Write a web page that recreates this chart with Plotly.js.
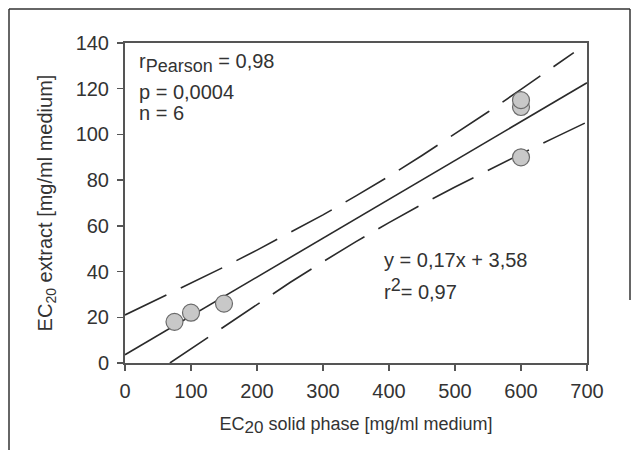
<!DOCTYPE html>
<html>
<head>
<meta charset="utf-8">
<script src="https://cdn.plot.ly/plotly-3.0.1.min.js"></script>
<style>html,body{margin:0;padding:0;background:#fff;}#chart{width:637px;height:450px;}</style>
</head>
<body>
<div id="chart"></div>
<script>
// Measured data points
const solidX = [75, 100, 150, 600, 600, 600];
const extractY = [18, 22, 26, 112, 115, 90];

// Regression line
const fitX = [0, 700];
const fitY = [3.6, 122.6];

// Upper dashed band
const upperX = [0, 50, 100, 150, 200, 250, 300, 350, 400, 450, 500, 550, 600, 650, 680];
const upperY = [21, 28, 35, 42, 49.4, 57, 64.8, 73.1, 81.7, 90.8, 100.2, 109.8, 119.7, 129.7, 135.8];

// Lower dashed band
const lowerX = [68, 100, 150, 200, 250, 300, 350, 400, 450, 500, 550, 600, 650, 700];
const lowerY = [0, 6.2, 16.1, 25.8, 35.2, 44.3, 53.1, 61.4, 69.4, 77, 84.3, 91.5, 98.5, 105.4];

const xTicks = [0, 100, 200, 300, 400, 500, 600, 700];
const yTicks = [0, 20, 40, 60, 80, 100, 120, 140];

const FONT = 'Liberation Sans, Arial, sans-serif';
const TXT = '#333333';

const traces = [
  {x: upperX, y: upperY, mode: 'lines', line: {color: '#2a2a2a', width: 1.6, dash: '46px,16px'}, hoverinfo: 'skip'},
  {x: lowerX, y: lowerY, mode: 'lines', line: {color: '#2a2a2a', width: 1.6, dash: '46px,16px'}, hoverinfo: 'skip'},
  {x: fitX, y: fitY, mode: 'lines', line: {color: '#2a2a2a', width: 1.6}, hoverinfo: 'skip'},
  {x: solidX, y: extractY, mode: 'markers',
   marker: {size: 17, color: '#c8c8c8', line: {color: '#6a6a6a', width: 1.2}}}
];

const layout = {
  width: 637, height: 450,
  margin: {l: 125, r: 50, t: 43, b: 87},
  paper_bgcolor: '#ffffff', plot_bgcolor: '#ffffff',
  showlegend: false,
  font: {family: FONT, color: TXT, size: 20},
  xaxis: {
    range: [0, 700], tickvals: xTicks, ticktext: xTicks.map(String),
    showgrid: false, zeroline: false, showline: true, mirror: true,
    linecolor: '#555555', linewidth: 2, ticks: 'outside', ticklen: 6, tickwidth: 1.5, tickcolor: '#555555',
    ticklabelstandoff: 3,
    tickfont: {family: FONT, size: 20, color: TXT},
    title: {text: 'EC<sub><span style="font-size:17px">20</span></sub> solid phase [mg/ml medium]', font: {family: FONT, size: 18, color: TXT}, standoff: 16}
  },
  yaxis: {
    range: [0, 140], tickvals: yTicks, ticktext: yTicks.map(String),
    showgrid: false, zeroline: false, showline: true, mirror: true,
    linecolor: '#555555', linewidth: 2, ticks: 'outside', ticklen: 6, tickwidth: 1.5, tickcolor: '#555555',
    ticklabelstandoff: 4,
    tickfont: {family: FONT, size: 20, color: TXT},
    title: {text: 'EC<sub>20</sub> extract [mg/ml medium]', font: {family: FONT, size: 20, color: TXT}, standoff: 18}
  },
  annotations: [
    {xref: 'paper', yref: 'paper', x: 0.026, y: (363 - 63) / 320, xanchor: 'left', yanchor: 'middle', showarrow: false,
     text: 'r<sub><span style="font-size:18px">Pearson</span></sub> = 0,98', font: {family: FONT, size: 20, color: TXT}},
    {xref: 'paper', yref: 'paper', x: 0.026, y: (363 - 92) / 320, xanchor: 'left', yanchor: 'middle', showarrow: false,
     text: 'p = 0,0004', font: {family: FONT, size: 20, color: TXT}},
    {xref: 'paper', yref: 'paper', x: 0.026, y: (363 - 113) / 320, xanchor: 'left', yanchor: 'middle', showarrow: false,
     text: 'n = 6', font: {family: FONT, size: 20, color: TXT}},
    {xref: 'paper', yref: 'paper', x: (382 - 125) / 462, y: (363 - 260) / 320, xanchor: 'left', yanchor: 'middle', showarrow: false,
     text: 'y = 0,17x + 3,58', font: {family: FONT, size: 20, color: TXT}},
    {xref: 'paper', yref: 'paper', x: (382 - 125) / 462, y: (363 - 289) / 320, xanchor: 'left', yanchor: 'middle', showarrow: false,
     text: 'r<sup><span style="font-size:18px">2</span></sup>= 0,97', font: {family: FONT, size: 20, color: TXT}}
  ],
  shapes: [
    {type: 'line', xref: 'paper', yref: 'paper', x0: (9 - 125) / 462, x1: (9 - 125) / 462, y0: (363 - 9) / 320, y1: (363 - 452) / 320, line: {color: '#333', width: 1.5}},
    {type: 'line', xref: 'paper', yref: 'paper', x0: (9 - 125) / 462, x1: (630 - 125) / 462, y0: (363 - 9) / 320, y1: (363 - 9) / 320, line: {color: '#333', width: 1.5}},
    {type: 'line', xref: 'paper', yref: 'paper', x0: (630 - 125) / 462, x1: (630 - 125) / 462, y0: (363 - 9) / 320, y1: (363 - 300) / 320, line: {color: '#333', width: 1.5}}
  ]
};

Plotly.newPlot('chart', traces, layout, {staticPlot: true, displayModeBar: false});
</script>
</body>
</html>
